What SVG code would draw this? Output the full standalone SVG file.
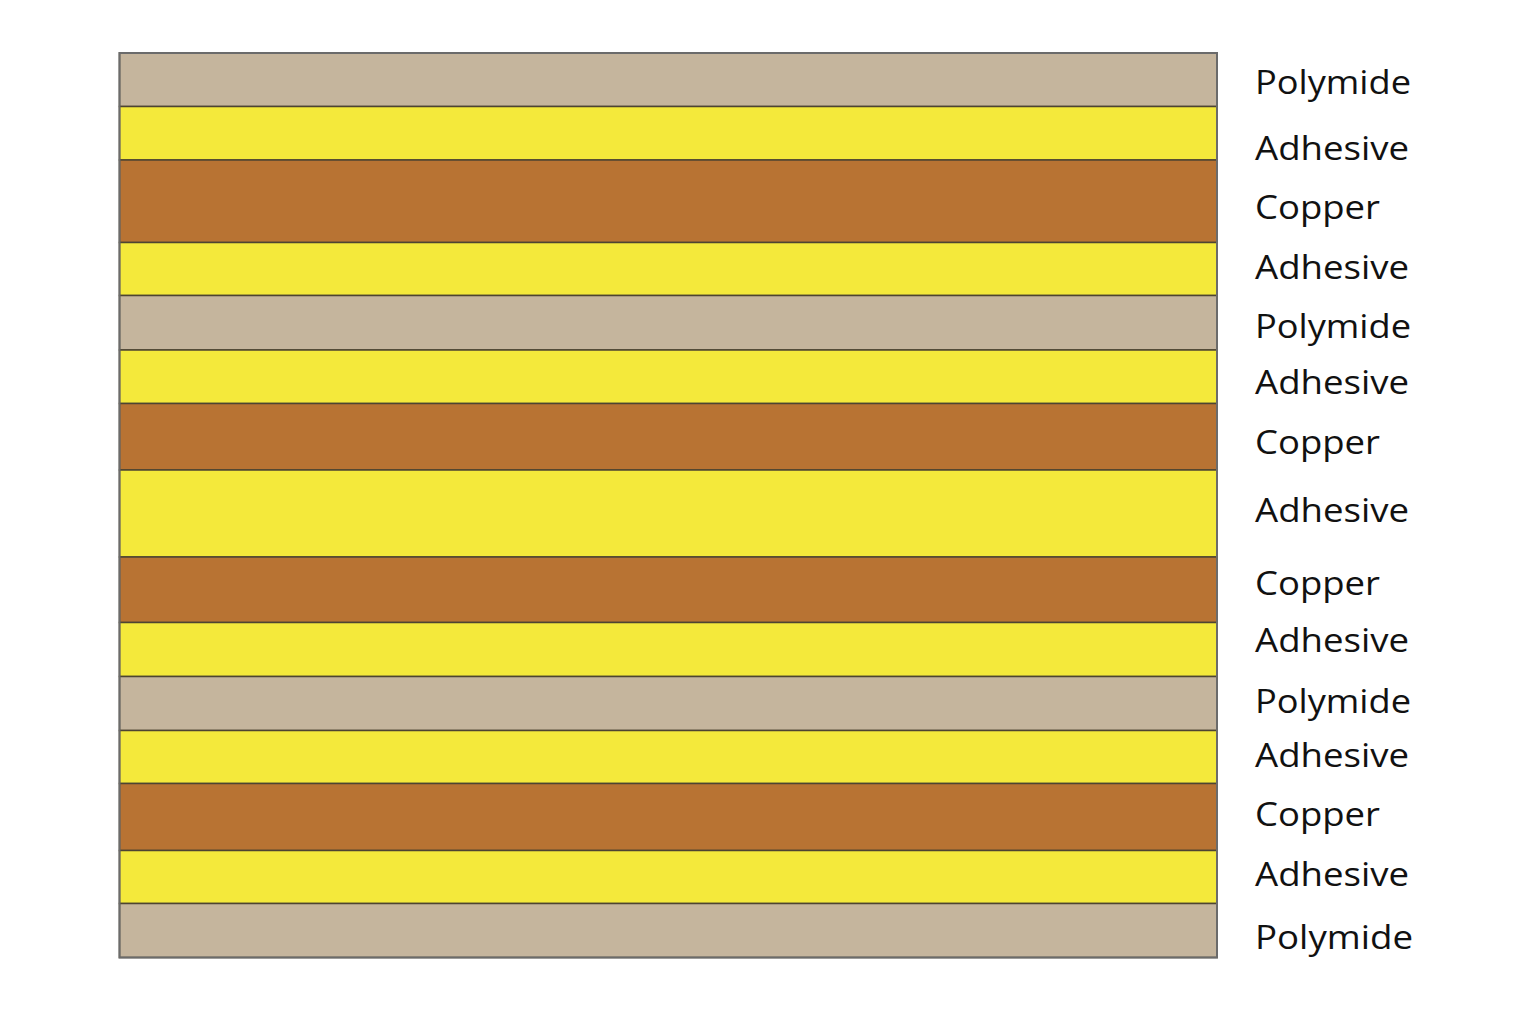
<svg xmlns="http://www.w3.org/2000/svg" width="1529" height="1012" viewBox="0 0 1529 1012">
<style>
.poly{fill:#c5b59d;stroke:#4d4432;stroke-width:1.5}
.adh{fill:#f4e93b;stroke:#4d4432;stroke-width:1.5}
.cu{fill:#b87333;stroke:#4d4432;stroke-width:1.5}
.lbl{font-family:"Open Sans","Liberation Sans",sans-serif;font-size:33px;font-weight:500;fill:#111111}
</style>
<rect width="1529" height="1012" fill="#ffffff"/>
<g id="layers">
<rect id="l1" class="poly" x="119.5" y="53" width="1097.5" height="53.5"/>
<rect id="l2" class="adh" x="119.5" y="106.5" width="1097.5" height="53.5"/>
<rect id="l3" class="cu" x="119.5" y="160" width="1097.5" height="82.5"/>
<rect id="l4" class="adh" x="119.5" y="242.5" width="1097.5" height="53"/>
<rect id="l5" class="poly" x="119.5" y="295.5" width="1097.5" height="54.5"/>
<rect id="l6" class="adh" x="119.5" y="350" width="1097.5" height="53.5"/>
<rect id="l7" class="cu" x="119.5" y="403.5" width="1097.5" height="66.5"/>
<rect id="l8" class="adh" x="119.5" y="470" width="1097.5" height="87"/>
<rect id="l9" class="cu" x="119.5" y="557" width="1097.5" height="65.5"/>
<rect id="l10" class="adh" x="119.5" y="622.5" width="1097.5" height="54"/>
<rect id="l11" class="poly" x="119.5" y="676.5" width="1097.5" height="54"/>
<rect id="l12" class="adh" x="119.5" y="730.5" width="1097.5" height="53"/>
<rect id="l13" class="cu" x="119.5" y="783.5" width="1097.5" height="67"/>
<rect id="l14" class="adh" x="119.5" y="850.5" width="1097.5" height="53"/>
<rect id="l15" class="poly" x="119.5" y="903.5" width="1097.5" height="54"/>
<rect x="119.5" y="53" width="1097.5" height="904.5" fill="none" stroke="#6b6b6b" stroke-width="2"/>
</g>
<g id="labels" class="lbl">
<text x="1255" y="94" textLength="156" lengthAdjust="spacingAndGlyphs">Polymide</text>
<text x="1255" y="160" textLength="154" lengthAdjust="spacingAndGlyphs">Adhesive</text>
<text x="1255" y="219" textLength="125" lengthAdjust="spacingAndGlyphs">Copper</text>
<text x="1255" y="279" textLength="154" lengthAdjust="spacingAndGlyphs">Adhesive</text>
<text x="1255" y="338" textLength="156" lengthAdjust="spacingAndGlyphs">Polymide</text>
<text x="1255" y="394" textLength="154" lengthAdjust="spacingAndGlyphs">Adhesive</text>
<text x="1255" y="454" textLength="125" lengthAdjust="spacingAndGlyphs">Copper</text>
<text x="1255" y="522" textLength="154" lengthAdjust="spacingAndGlyphs">Adhesive</text>
<text x="1255" y="595" textLength="125" lengthAdjust="spacingAndGlyphs">Copper</text>
<text x="1255" y="652" textLength="154" lengthAdjust="spacingAndGlyphs">Adhesive</text>
<text x="1255" y="713" textLength="156" lengthAdjust="spacingAndGlyphs">Polymide</text>
<text x="1255" y="767" textLength="154" lengthAdjust="spacingAndGlyphs">Adhesive</text>
<text x="1255" y="826" textLength="125" lengthAdjust="spacingAndGlyphs">Copper</text>
<text x="1255" y="886" textLength="154" lengthAdjust="spacingAndGlyphs">Adhesive</text>
<text x="1255" y="949" textLength="158" lengthAdjust="spacingAndGlyphs">Polymide</text>
</g>
</svg>
